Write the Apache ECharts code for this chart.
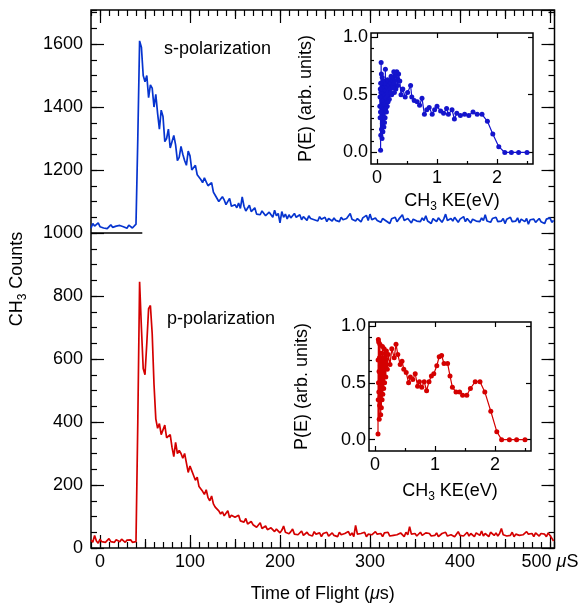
<!DOCTYPE html>
<html lang="en">
<head>
    <meta charset="UTF-8">
    <title>CH3 time of flight</title>
    <style>
        body{ margin: 0; background: #fff; }
    </style>
</head>
<body>
<div id="main" style="width: 588px;height:606px;"></div>
<script src="https://cdn.jsdelivr.net/npm/echarts@6/dist/echarts.min.js"></script>
<script type="text/javascript">
    // time of flight sampling (us)
    var tofStart = -10;
    var tofStep = 2;

    // s-polarization counts (offset by 1000)
    var sCounts = [
        1015,1030,1022,1018,1032,1020,1024,1016,1022,1014,
        1020,1026,1018,1012,1022,1016,1024,1030,1020,1018,
        1015,1025,1020,1016,1022,1028,1300,1610,1590,1500,
        1480,1500,1430,1470,1460,1400,1440,1380,1330,1390,
        1370,1290,1300,1330,1270,1290,1310,1280,1230,1240,
        1275,1250,1230,1215,1260,1245,1200,1195,1215,1185,
        1190,1170,1160,1175,1180,1150,1145,1160,1130,1120,
        1125,1100,1095,1115,1105,1090,1095,1110,1085,1080,
        1090,1080,1095,1078,1115,1085,1070,1075,1088,1068,
        1072,1080,1060,1065,1058,1070,1075,1055,1060,1066,
        1065,1050,1072,1055,1062,1032,1068,1050,1060,1045,
        1058,1048,1055,1062,1050,1045,1058,1042,1052,1048,
        1040,1055,1046,1050,1042,1048,1038,1052,1044,1040,
        1050,1036,1046,1042,1038,1048,1040,1045,1036,1050,
        1042,1038,1046,1040,1062,1044,1050,1038,1046,1040,
        1035,1048,1042,1056,1040,1060,1042,1036,1048,1040,
        1044,1034,1046,1052,1038,1042,1030,1045,1040,1050,
        1036,1044,1038,1058,1040,1035,1046,1040,1032,1044,
        1050,1038,1042,1036,1048,1040,1055,1038,1044,1030,
        1046,1040,1036,1048,1042,1034,1045,1060,1040,1036,
        1046,1038,1050,1042,1034,1044,1040,1052,1036,1046,
        1040,1032,1044,1050,1038,1042,1036,1048,1040,1058,
        1038,1044,1034,1046,1040,1050,1036,1042,1038,1046,
        1030,1044,1040,1050,1036,1042,1038,1048,1032,1044,
        1040,1036,1046,1028,1042,1038,1044,1034,1040,1046,
        1036,1042,1030,1044,1038,1048,1034,1040
    ];

    // p-polarization counts
    var pCounts = [
        25,18,40,22,15,28,20,25,18,22,
        30,20,24,18,26,22,20,28,22,18,
        25,20,26,18,24,20,400,845,700,570,
        550,650,760,770,680,520,410,380,395,360,
        375,390,350,345,360,320,290,335,300,310,
        300,285,300,270,240,260,255,230,215,225,
        195,200,180,170,185,160,150,165,140,130,
        125,118,108,115,102,110,118,96,104,108,
        98,92,104,86,90,82,94,76,80,84,
        74,78,66,72,80,62,68,70,58,62,
        64,58,52,60,54,48,56,70,50,52,
        45,52,60,44,50,42,48,54,40,46,
        50,42,46,38,52,44,40,48,36,46,
        42,50,38,44,48,40,46,36,50,42,
        38,46,42,52,40,48,36,72,44,38,
        46,40,50,36,44,48,42,38,52,44,
        40,46,36,48,42,50,38,44,40,46,
        42,38,48,44,36,50,42,68,44,40,
        46,38,44,50,40,36,48,42,46,38,
        44,40,48,36,42,46,40,50,38,44,
        42,48,36,44,52,40,46,38,44,50,
        38,46,42,36,48,44,40,54,38,46,
        42,36,50,44,40,48,38,46,62,42,
        46,38,44,40,50,36,44,48,40,46,
        42,38,52,44,40,46,36,48,42,38,
        46,40,44,36,48,40,34,22
    ];

    // s trace baseline marker
    var sOffset = 1000;
    var sBaselineEnd = 47;

    // inset P(E) for s-polarization
    var keS = [2.50,2.36,2.24,2.13,2.03,1.93,1.84,1.75,1.67,1.60,1.53,1.46,1.39,1.33,1.29,1.25,1.19,1.16,1.11,1.06,
        1.00,0.96,0.92,0.87,0.83,0.79,0.75,0.71,0.67,0.62,0.58,0.56,0.51,0.47,0.43,0.40,
        0.38,0.36,0.345,0.33,0.315,0.30,0.29,0.28,0.265,0.255,0.245,0.235,0.225,0.215,0.205,0.195,0.185,0.178,0.17,0.163,
        0.157,0.15,0.145,0.14,0.135,0.13,0.125,0.12,0.115,0.11,0.106,0.102,0.098,0.094,0.09,0.087,0.084,0.081,0.078,0.075,
        0.073,0.071,0.069,0.067,0.065,0.063,0.061,0.06,0.058,0.055,0.052,0.05,0.047];
    var peS = [0,0,0,0,0.05,0.16,0.27,0.33,0.33,0.35,0.32,0.33,0.32,0.34,0.29,0.37,0.33,0.38,0.34,0.36,
        0.40,0.37,0.33,0.39,0.37,0.33,0.47,0.41,0.44,0.45,0.48,0.58,0.52,0.48,0.55,0.50,
        0.62,0.68,0.58,0.70,0.55,0.66,0.52,0.70,0.56,0.64,0.50,0.66,0.52,0.62,0.46,0.60,0.44,0.63,0.40,0.58,
        0.35,0.62,0.38,0.72,0.30,0.56,0.26,0.60,0.22,0.54,0.30,0.62,0.18,0.50,0.25,0.65,0.12,0.45,0.56,0.20,
        0.68,0.35,0.78,0.40,0.52,0.15,0.60,0.02,0.35,0.55,0.30,0.48,0.40];

    // inset P(E) for p-polarization
    var keP = [2.50,2.36,2.24,2.11,2.03,1.93,1.83,1.75,1.67,1.59,1.53,1.46,1.41,1.35,1.29,1.25,1.21,1.15,1.11,1.07,
        1.03,0.98,0.94,0.90,0.86,0.82,0.78,0.74,0.71,0.67,0.63,0.59,0.56,0.52,0.48,0.45,0.42,0.38,0.35,0.32,
        0.28,0.25,0.22,0.205,0.19,0.18,0.17,0.16,0.152,0.145,0.138,0.13,0.124,0.118,0.112,0.106,0.10,0.095,0.09,0.086,
        0.082,0.078,0.074,0.07,0.067,0.064,0.061,0.058,0.056,0.054,0.052,0.05];
    var peP = [0,0,0,0,0.07,0.25,0.42,0.51,0.51,0.45,0.39,0.39,0.42,0.42,0.46,0.56,0.67,0.67,0.74,0.73,
        0.65,0.58,0.56,0.51,0.43,0.51,0.46,0.51,0.47,0.58,0.53,0.55,0.50,0.59,0.62,0.69,0.66,0.75,0.84,0.72,
        0.80,0.66,0.75,0.62,0.78,0.55,0.76,0.50,0.80,0.45,0.72,0.40,0.82,0.35,0.70,0.28,0.76,0.22,0.65,0.38,
        0.84,0.30,0.72,0.18,0.60,0.42,0.86,0.50,0.88,0.35,0.70,0.05];

    // tick values
    var xTickLabels = [0, 100, 200, 300, 400, 500];
    var xMidTicks = [50, 150, 250, 350, 450];
    var insetXTicks = [0, 1, 2];
    var insetXMinor = [0.5, 1.5, 2.5];
    var insetYTicks = [0, 0.5, 1];
    var insetYMinor = [0.1, 0.2, 0.3, 0.4, 0.6, 0.7, 0.8, 0.9];

    var FONT = '"Liberation Sans", Arial, sans-serif';
    var BLUE = '#0634cf';
    var RED = '#d40000';
    var tickLine = {color: '#000', width: 1.2};

    function pairs(xs, ys) {
        var out = [];
        for (var i = 0; i < ys.length; i++) out.push([xs[i], ys[i]]);
        return out;
    }
    var tof = [];
    for (var i = 0; i < sCounts.length; i++) tof.push(tofStart + i * tofStep);

    // axis that only draws inward ticks
    function tickAxis(base, len, ticks) {
        var a = Object.assign({
            type: 'value',
            axisLine: {show: false, onZero: false},
            axisLabel: {show: false},
            splitLine: {show: false},
            axisTick: {show: true, inside: true, length: len, lineStyle: tickLine}
        }, base);
        if (Array.isArray(ticks)) a.axisTick.customValues = ticks;
        else if (ticks) a.interval = ticks;
        return a;
    }

    var labelStyle = {color: '#000', fontSize: 18, fontFamily: FONT};

    var xAxes = [];
    var yAxes = [];

    // main plot x axes
    var mainX = {gridIndex: 0, min: -10, max: 505};
    var xb = tickAxis(Object.assign({position: 'bottom'}, mainX), 13, xTickLabels);
    xb.axisLabel = Object.assign({
        show: true, margin: 5, customValues: xTickLabels,
        formatter: function (v) { return v === 500 ? '500 {i|μ}S' : String(v); },
        rich: {i: {fontStyle: 'italic', fontSize: 18, fontFamily: FONT, color: '#000'}}
    }, labelStyle);
    xb.name = 'Time of Flight ({i|μ}s)';
    xb.nameLocation = 'middle';
    xb.nameGap = 37;
    xb.nameTextStyle = Object.assign({
        rich: {i: {fontStyle: 'italic', fontSize: 18, fontFamily: FONT, color: '#000'}}
    }, labelStyle);
    xAxes.push(xb);
    xAxes.push(tickAxis(Object.assign({position: 'bottom'}, mainX), 9, xMidTicks));
    xAxes.push(tickAxis(Object.assign({position: 'bottom'}, mainX), 6, 10));
    xAxes.push(tickAxis(Object.assign({position: 'top'}, mainX), 13, xTickLabels));
    xAxes.push(tickAxis(Object.assign({position: 'top'}, mainX), 9, xMidTicks));
    xAxes.push(tickAxis(Object.assign({position: 'top'}, mainX), 6, 10));

    // main plot y axes
    var mainY = {gridIndex: 0, min: 0, max: 1708};
    var yl = tickAxis(Object.assign({position: 'left'}, mainY), 13, 200);
    yl.axisLabel = Object.assign({
        show: true, margin: 8, showMaxLabel: false,
        formatter: function (v) { return (v % 200 === 0 && v <= 1600) ? String(v) : ''; }
    }, labelStyle);
    yl.name = '{a|CH}{b|3}{a| Counts}';
    yl.nameLocation = 'middle';
    yl.nameGap = 62;
    yl.nameTextStyle = {
        rich: {
            a: {fontSize: 18, fontFamily: FONT, color: '#000', lineHeight: 24},
            b: {fontSize: 12, fontFamily: FONT, color: '#000', lineHeight: 12, verticalAlign: 'bottom'}
        }
    };
    yAxes.push(yl);
    yAxes.push(tickAxis(Object.assign({position: 'left'}, mainY), 6, 50));
    yAxes.push(tickAxis(Object.assign({position: 'right'}, mainY), 13, 200));
    yAxes.push(tickAxis(Object.assign({position: 'right'}, mainY), 6, 50));

    // inset axes
    function insetAxes(grid, nameGapX, nameGapY) {
        var ix = {gridIndex: grid, min: -0.1, max: 2.6};
        var iy = {gridIndex: grid, min: -0.1, max: 1.035};
        var bx = tickAxis(Object.assign({position: 'bottom'}, ix), 5, insetXTicks);
        bx.axisLabel = Object.assign({show: true, margin: 5, customValues: insetXTicks}, labelStyle);
        bx.name = '{a|CH}{b|3}{a| KE(eV)}';
        bx.nameLocation = 'middle';
        bx.nameGap = nameGapX;
        bx.nameTextStyle = {
            rich: {
                a: {fontSize: 18, fontFamily: FONT, color: '#000', lineHeight: 24},
                b: {fontSize: 12, fontFamily: FONT, color: '#000', lineHeight: 12, verticalAlign: 'bottom'}
            }
        };
        var xi = xAxes.length;
        xAxes.push(bx);
        xAxes.push(tickAxis(Object.assign({position: 'bottom'}, ix), 3, insetXMinor));
        xAxes.push(tickAxis(Object.assign({position: 'top'}, ix), 5, insetXTicks));

        var ly = tickAxis(Object.assign({position: 'left'}, iy), 6, insetYTicks);
        ly.axisLabel = Object.assign({
            show: true, margin: 3, customValues: insetYTicks,
            formatter: function (v) { return v.toFixed(1); }
        }, labelStyle);
        ly.name = 'P(E) (arb. units)';
        ly.nameLocation = 'middle';
        ly.nameGap = nameGapY;
        ly.nameTextStyle = labelStyle;
        var yi = yAxes.length;
        yAxes.push(ly);
        yAxes.push(tickAxis(Object.assign({position: 'left'}, iy), 3, insetYMinor));
        yAxes.push(tickAxis(Object.assign({position: 'right'}, iy), 5, insetYTicks));
        return [xi, yi];
    }
    var insS = insetAxes(1, 25, 56);
    var insP = insetAxes(2, 28, 58);

    var gridBox = {show: true, borderColor: '#000', borderWidth: 1.5, backgroundColor: 'transparent', containLabel: false, outerBoundsMode: 'none'};

    var chart = echarts.init(document.getElementById('main'));
    var option = {
        animation: false,
        backgroundColor: '#fff',
        grid: [
            Object.assign({left: 91, top: 10, width: 463.5, height: 538}, gridBox),
            Object.assign({left: 371, top: 33, width: 162, height: 131}, gridBox),
            Object.assign({left: 369, top: 322, width: 162, height: 129}, gridBox)
        ],
        xAxis: xAxes,
        yAxis: yAxes,
        graphic: [
            {type: 'text', x: 164, y: 49, style: {text: 's-polarization', fill: '#000', font: '18px ' + FONT, verticalAlign: 'middle'}},
            {type: 'text', x: 167, y: 319, style: {text: 'p-polarization', fill: '#000', font: '18px ' + FONT, verticalAlign: 'middle'}}
        ],
        series: [
            {
                name: 's-polarization', type: 'line', xAxisIndex: 0, yAxisIndex: 0,
                data: pairs(tof, sCounts), showSymbol: false,
                lineStyle: {color: BLUE, width: 1.7}, itemStyle: {color: BLUE},
                markLine: {
                    silent: true, symbol: 'none', label: {show: false},
                    lineStyle: {color: '#000', width: 1.5, type: 'solid'},
                    data: [[{coord: [tofStart, sOffset]}, {coord: [sBaselineEnd, sOffset]}]]
                }
            },
            {
                name: 'p-polarization', type: 'line', xAxisIndex: 0, yAxisIndex: 0,
                data: pairs(tof, pCounts), showSymbol: false,
                lineStyle: {color: RED, width: 1.7}, itemStyle: {color: RED}
            },
            {
                type: 'line', xAxisIndex: insS[0], yAxisIndex: insS[1],
                data: pairs(keS, peS), symbol: 'circle', symbolSize: 5,
                lineStyle: {color: '#1414cc', width: 1.2}, itemStyle: {color: '#1414cc'}
            },
            {
                type: 'line', xAxisIndex: insP[0], yAxisIndex: insP[1],
                data: pairs(keP, peP), symbol: 'circle', symbolSize: 5,
                lineStyle: {color: RED, width: 1.2}, itemStyle: {color: RED}
            }
        ]
    };
    chart.setOption(option);
</script>
</body>
</html>
